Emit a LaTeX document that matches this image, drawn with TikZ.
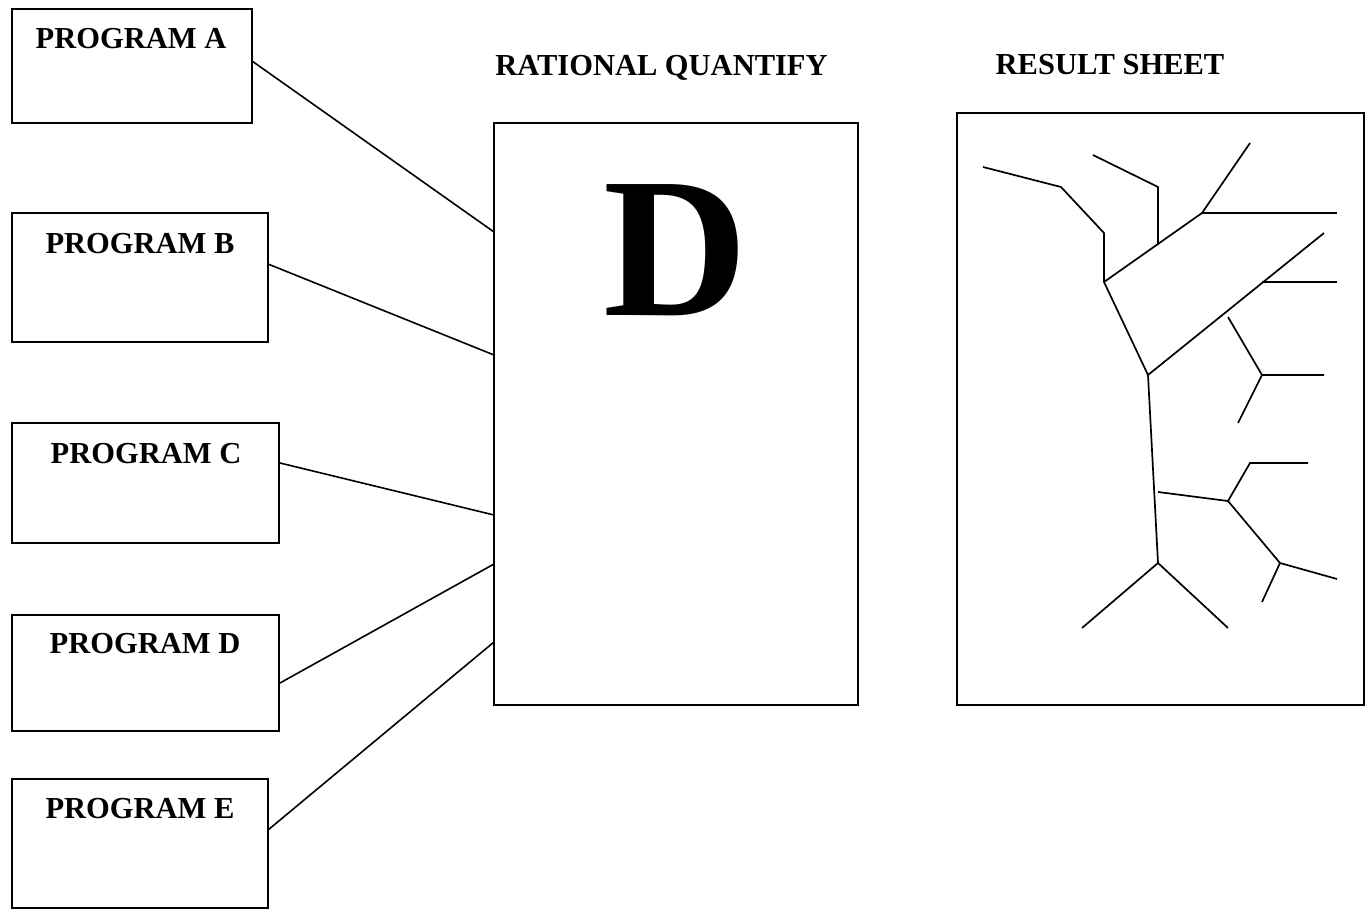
\documentclass[tikz,border=0pt]{standalone}
\usepackage{fontspec}
\setmainfont{Liberation Serif}
\begin{document}
\begin{tikzpicture}[x=1pt,y=-1pt,
  box/.style={draw,line width=2pt,inner sep=0pt,outer sep=0pt},
  ttl/.style={anchor=base,inner sep=0pt,font=\fontsize{30.5}{36}\selectfont\bfseries},
  conn/.style={line width=1.6pt},
  tree/.style={line width=1.7pt,line join=miter}]
\useasboundingbox (0,0) rectangle (1369,910);
% program boxes
\node[box,minimum width=240pt,minimum height=114pt] (A) at (132,66) {};
\node[box,minimum width=256pt,minimum height=129pt] (B) at (140,277.5) {};
\node[box,minimum width=267pt,minimum height=120pt] (C) at (145.5,483) {};
\node[box,minimum width=267pt,minimum height=116pt] (D) at (145.5,673) {};
\node[box,minimum width=256pt,minimum height=129pt] (E) at (140,843.5) {};
\node[ttl] (tA) at (131,48) {PROGRAM A};
\node[ttl] (tB) at (140,253) {PROGRAM B};
\node[ttl] (tC) at (146,463) {PROGRAM C};
\node[ttl] (tD) at (145,653) {PROGRAM D};
\node[ttl] (tE) at (140,818) {PROGRAM E};
% middle box
\node[box,minimum width=364pt,minimum height=582pt] (Q) at (676,414) {};
\node[ttl] (tQ) at (661.5,75) {RATIONAL QUANTIFY};
\node[anchor=base,inner sep=0pt,font=\fontsize{200}{200}\selectfont\bfseries] (bigD) at (676,315) {D};
% result sheet
\node[box,minimum width=407pt,minimum height=592pt] (R) at (1160.5,409) {};
\node[ttl] (tR) at (1110,74) {RESULT SHEET};
% connector end points
\coordinate (a0) at (252,61);
\coordinate (b0) at (268,264);
\coordinate (c0) at (280,463);
\coordinate (d0) at (280,683);
\coordinate (e0) at (268,830);
\coordinate (a1) at (494,232);
\coordinate (b1) at (494,355);
\coordinate (c1) at (494,515);
\coordinate (d1) at (494,564);
\coordinate (e1) at (494,642);
\draw[conn] (a0) -- (a1);
\draw[conn] (b0) -- (b1);
\draw[conn] (c0) -- (c1);
\draw[conn] (d0) -- (d1);
\draw[conn] (e0) -- (e1);
% tree
\draw[tree] (983,167) -- (1061,187) -- (1104,233) -- (1104,282);
\draw[tree] (1093,155) -- (1158,187) -- (1158,245);
\draw[tree] (1104,282) -- (1202,213) -- (1250,143);
\draw[tree] (1202,213) -- (1337,213);
\draw[tree] (1104,282) -- (1148,375) -- (1324,233);
\draw[tree] (1262,282) -- (1337,282);
\draw[tree] (1228,317) -- (1262,375) -- (1324,375);
\draw[tree] (1262,375) -- (1238,423);
\draw[tree] (1148,375) -- (1158,563);
\draw[tree] (1158,492) -- (1228,501) -- (1250,463) -- (1308,463);
\draw[tree] (1228,501) -- (1280,563) -- (1337,579);
\draw[tree] (1280,563) -- (1262,602);
\draw[tree] (1082,628) -- (1158,563) -- (1228,628);
\end{tikzpicture}
\end{document}
